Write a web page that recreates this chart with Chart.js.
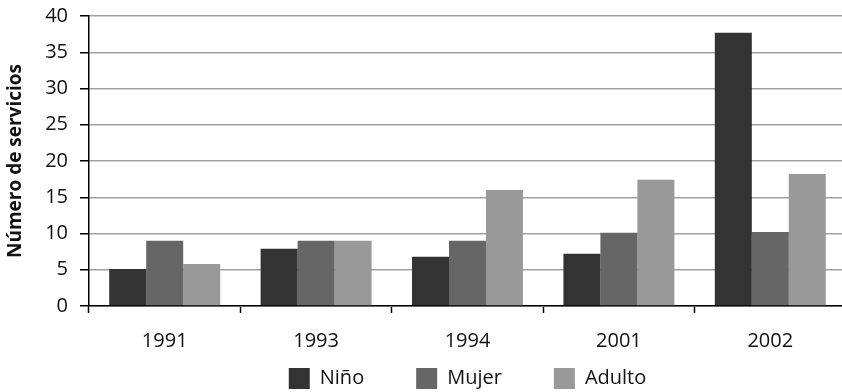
<!DOCTYPE html>
<html lang="es">

<head>
    <meta charset="UTF-8">
    <title>Número de servicios</title>
    <style>
        body {
            margin: 0;
            padding: 0;
            background: #ffffff;
            overflow: hidden;
        }

        #wrap {
            width: 846px;
            height: 392px;
        }
    </style>
</head>

<body>
    <div id="wrap"><canvas id="barChart"></canvas></div>

    <script src="https://cdn.jsdelivr.net/npm/chart.js"></script>

    <script>
        const YEARS = ["1991", "1993", "1994", "2001", "2002"];
        const NINO = [5.1, 7.9, 6.8, 7.2, 37.7];
        const MUJER = [9.0, 9.0, 9.0, 10.1, 10.2];
        const ADULTO = [5.8, 9.0, 16.0, 17.4, 18.2];
        const Y_TICKS = [0, 5, 10, 15, 20, 25, 30, 35, 40];

        const FONT = "'Open Sans', 'Noto Sans', sans-serif";

        // legend gets little room in the layout, then is moved to where it belongs
        const legendShift = {
            id: 'legendShift',
            afterLayout(chart) {
                const lg = chart.legend;
                lg.top = 368 - lg.options.labels.padding;
            }
        };

        var ctx = document.getElementById('barChart').getContext('2d');

        var barChart = new Chart(ctx, {
            type: 'bar',
            data: {
                labels: YEARS,
                datasets: [
                    { label: 'Niño', data: NINO, backgroundColor: '#333333' },
                    { label: 'Mujer', data: MUJER, backgroundColor: '#666666' },
                    { label: 'Adulto', data: ADULTO, backgroundColor: '#999999' }
                ]
            },
            options: {
                responsive: true,
                maintainAspectRatio: false,
                animation: false,
                categoryPercentage: 0.733,
                barPercentage: 1,
                layout: {
                    padding: { top: 16, left: 0, right: 0, bottom: 0 }
                },
                scales: {
                    x: {
                        afterFit: s => { s.height = 44; s.paddingLeft = 0; s.paddingRight = 0; },
                        grid: {
                            drawOnChartArea: false,
                            drawTicks: true,
                            tickLength: 7,
                            tickColor: '#000000',
                            tickWidth: 1.5
                        },
                        border: { color: '#000000', width: 1.5 },
                        ticks: {
                            color: '#111111',
                            font: { family: FONT, size: 20 },
                            padding: 16
                        }
                    },
                    y: {
                        min: 0,
                        max: 40,
                        afterFit: s => { s.width = 89; s.paddingTop = 0; s.paddingBottom = 0; },
                        afterBuildTicks: s => { s.ticks = Y_TICKS.map(v => ({ value: v })); },
                        grid: {
                            color: '#a0a0a0',
                            lineWidth: 1.5,
                            tickLength: 9,
                            tickColor: '#000000',
                            tickWidth: 1.5
                        },
                        border: { color: '#000000', width: 1.5 },
                        ticks: {
                            color: '#111111',
                            font: { family: FONT, size: 20 },
                            padding: 12
                        },
                        title: {
                            display: true,
                            text: 'Número de servicios',
                            color: '#111111',
                            font: { family: FONT, size: 19, weight: 'bold' },
                            padding: { top: 4, bottom: 0 }
                        }
                    }
                },
                plugins: {
                    legend: {
                        position: 'bottom',
                        fullSize: false,
                        maxHeight: 42,
                        labels: {
                            color: '#111111',
                            font: { family: FONT, size: 20 },
                            boxWidth: 21,
                            boxHeight: 21,
                            padding: 52
                        }
                    },
                    tooltip: { enabled: false }
                }
            },
            plugins: [legendShift]
        });
    </script>
</body>

</html>
